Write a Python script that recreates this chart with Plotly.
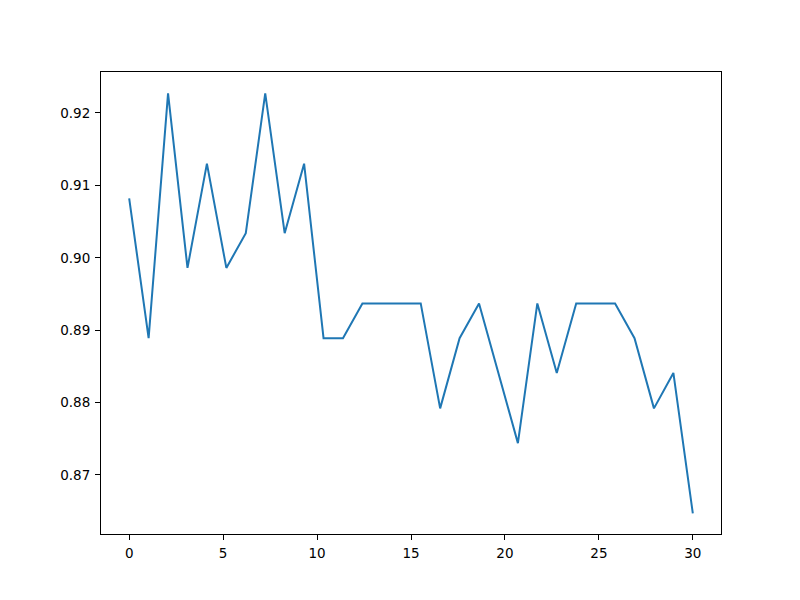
import numpy as np
import plotly.graph_objects as go

y_values = [0.9082, 0.8889, 0.9227, 0.8986, 0.9130, 0.8986, 0.9034, 0.9227, 0.9034, 0.9130,
            0.8889, 0.8889, 0.8937, 0.8937, 0.8937, 0.8937, 0.8792, 0.8889, 0.8937, 0.8841,
            0.8744, 0.8937, 0.8841, 0.8937, 0.8937, 0.8937, 0.8889, 0.8792, 0.8841, 0.8647]
x_values = list(np.linspace(0, 30, len(y_values)))
x_ticks = [0, 5, 10, 15, 20, 25, 30]
y_ticks = [0.87, 0.88, 0.89, 0.90, 0.91, 0.92]

fig = go.Figure(go.Scatter(x=x_values, y=y_values, mode="lines",
                           line=dict(color="#1f77b4", width=2)))

axis_common = dict(showgrid=False, zeroline=False, showline=True, linecolor="black",
                   linewidth=1, mirror=True, ticks="outside", ticklen=5, tickwidth=1,
                   tickcolor="black", ticklabelstandoff=2,
                   tickfont=dict(family="DejaVu Sans", size=13.5, color="black"))
fig.update_xaxes(range=[-1.5, 31.5], tickvals=x_ticks, ticktext=[str(t) for t in x_ticks], **axis_common)
fig.update_yaxes(range=[0.86185, 0.92566], tickvals=y_ticks, ticktext=[f"{t:.2f}" for t in y_ticks], **axis_common)

fig.update_layout(width=800, height=600, paper_bgcolor="white", plot_bgcolor="white",
                  margin=dict(l=93, r=87, t=64, b=74), showlegend=False)
fig.write_html("out.html")
